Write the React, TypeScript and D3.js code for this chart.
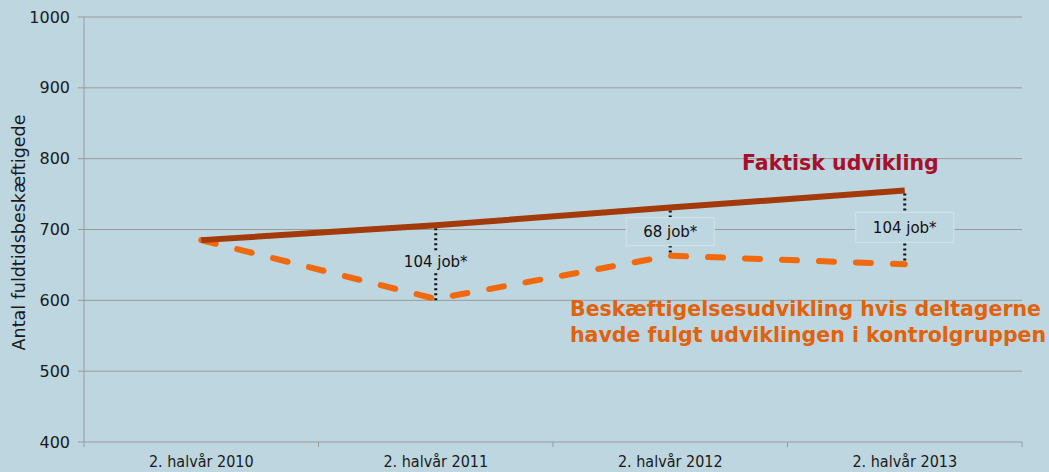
import React, { useRef, useEffect } from 'react';
import * as d3 from 'd3';

const categories = ['2. halvår 2010', '2. halvår 2011', '2. halvår 2012', '2. halvår 2013'];
const actualValues = [685, 706, 731, 755];
const controlValues = [685, 602, 663, 651];
const gapLabels = ['', '104 job*', '68 job*', '104 job*'];
const yTicks = [400, 500, 600, 700, 800, 900, 1000];

const App = () => {
  const svgRef = useRef<SVGSVGElement>(null);

  useEffect(() => {
    document.body.style.margin = '0';
    const W = 1049;
    const H = 472;
    const margin = { top: 17, right: 27, bottom: 30, left: 84 };
    const width = W - margin.left - margin.right;
    const height = H - margin.top - margin.bottom;

    const svg = d3.select(svgRef.current)
      .attr('width', W)
      .attr('height', H)
      .style('display', 'block')
      .style('background', '#bed6e0');

    svg.selectAll('*').remove();

    const x = d3.scaleBand().domain(categories).range([0, width]);
    const y = d3.scaleLinear().domain([400, 1000]).range([height, 0]);
    const cx = (i: number) => (x(categories[i]) as number) + x.bandwidth() / 2;

    const g = svg.append('g').attr('transform', `translate(${margin.left},${margin.top})`);

    // gridlines
    g.selectAll('line.grid')
      .data(yTicks)
      .enter()
      .append('line')
      .attr('x1', -6)
      .attr('x2', width)
      .attr('y1', d => y(d))
      .attr('y2', d => y(d))
      .attr('stroke', '#9a9a9a')
      .attr('stroke-width', 1);

    // y axis line
    g.append('line')
      .attr('x1', 0).attr('x2', 0)
      .attr('y1', 0).attr('y2', height)
      .attr('stroke', '#9a9a9a');

    // y tick labels
    g.selectAll('text.ytick')
      .data(yTicks)
      .enter()
      .append('text')
      .attr('x', -14)
      .attr('y', d => y(d))
      .attr('dy', '0.35em')
      .attr('text-anchor', 'end')
      .attr('font-family', 'DejaVu Sans, Verdana, sans-serif')
      .attr('font-size', 16)
      .attr('fill', '#1a1a1a')
      .text(d => d);

    // x axis ticks
    const xTickPos = categories.map(c => (x(c) as number) + x.bandwidth());
    g.selectAll('line.xtick')
      .data([0, ...xTickPos])
      .enter()
      .append('line')
      .attr('x1', d => d).attr('x2', d => d)
      .attr('y1', height).attr('y2', height + 5)
      .attr('stroke', '#9a9a9a');

    g.selectAll('text.xlab')
      .data(categories)
      .enter()
      .append('text')
      .attr('x', (d, i) => cx(i))
      .attr('y', height + 25)
      .attr('text-anchor', 'middle')
      .attr('font-family', 'DejaVu Sans Condensed, sans-serif')
      .attr('font-size', 16)
      .attr('fill', '#1a1a1a')
      .text(d => d);

    // y axis title
    svg.append('text')
      .attr('transform', `translate(25,${margin.top + y(700) + 3}) rotate(-90)`)
      .attr('text-anchor', 'middle')
      .attr('font-family', 'DejaVu Sans, Verdana, sans-serif')
      .attr('font-size', 17.5)
      .attr('fill', '#1a1a1a')
      .text('Antal fuldtidsbeskæftigede');

    // dotted connectors
    categories.forEach((c, i) => {
      if (!gapLabels[i]) return;
      const xi = cx(i);
      g.append('line')
        .attr('x1', xi).attr('x2', xi)
        .attr('y1', y(actualValues[i]) + 3)
        .attr('y2', y(controlValues[i]) + 2)
        .attr('stroke', '#111')
        .attr('stroke-width', 3)
        .attr('stroke-dasharray', '2 3');
    });

    const line = d3.line<number>()
      .x((d, i) => cx(i))
      .y(d => y(d));

    g.append('path')
      .datum(controlValues)
      .attr('d', line)
      .attr('fill', 'none')
      .attr('stroke', '#f06a0c')
      .attr('stroke-width', 6)
      .attr('stroke-linecap', 'round')
      .attr('stroke-dasharray', '15 22');

    g.append('path')
      .datum(actualValues)
      .attr('d', line)
      .attr('fill', 'none')
      .attr('stroke', '#a33a0a')
      .attr('stroke-width', 6);

    // label boxes
    const boxes = [
      null,
      { w: 0, h: 0, box: false },
      { w: 88, h: 28, box: true },
      { w: 98, h: 30, box: true },
    ];
    categories.forEach((c, i) => {
      const b = boxes[i];
      if (!b) return;
      const xi = cx(i);
      const mid = (y(actualValues[i]) + y(controlValues[i])) / 2;
      if (b.box) {
        g.append('rect')
          .attr('x', xi - b.w / 2)
          .attr('y', mid - b.h / 2)
          .attr('width', b.w)
          .attr('height', b.h)
          .attr('fill', '#bed6e0')
          .attr('stroke', '#d2e3ea')
          .attr('stroke-width', 1);
      } else {
        g.append('rect')
          .attr('x', xi - 42)
          .attr('y', mid - 10)
          .attr('width', 84)
          .attr('height', 20)
          .attr('fill', '#bed6e0');
      }
      g.append('text')
        .attr('x', xi)
        .attr('y', mid)
        .attr('dy', '0.35em')
        .attr('text-anchor', 'middle')
        .attr('font-family', 'DejaVu Sans, Verdana, sans-serif')
        .attr('font-size', 15)
        .attr('fill', '#111')
        .text(gapLabels[i]);
    });

    // annotations
    svg.append('text')
      .attr('x', 742)
      .attr('y', 170)
      .attr('font-family', 'DejaVu Sans, Verdana, sans-serif')
      .attr('font-weight', 'bold')
      .attr('font-size', 20.5)
      .attr('fill', '#a5102c')
      .text('Faktisk udvikling');

    const orange = ['Beskæftigelsesudvikling hvis deltagerne', 'havde fulgt udviklingen i kontrolgruppen'];
    svg.selectAll('text.orange')
      .data(orange)
      .enter()
      .append('text')
      .attr('x', 570)
      .attr('y', (d, i) => 316 + i * 26)
      .attr('font-family', 'DejaVu Sans, Verdana, sans-serif')
      .attr('font-weight', 'bold')
      .attr('font-size', 20.5)
      .attr('fill', '#e0620a')
      .text(d => d);
  }, []);

  return <svg ref={svgRef}></svg>;
};

export default App;
